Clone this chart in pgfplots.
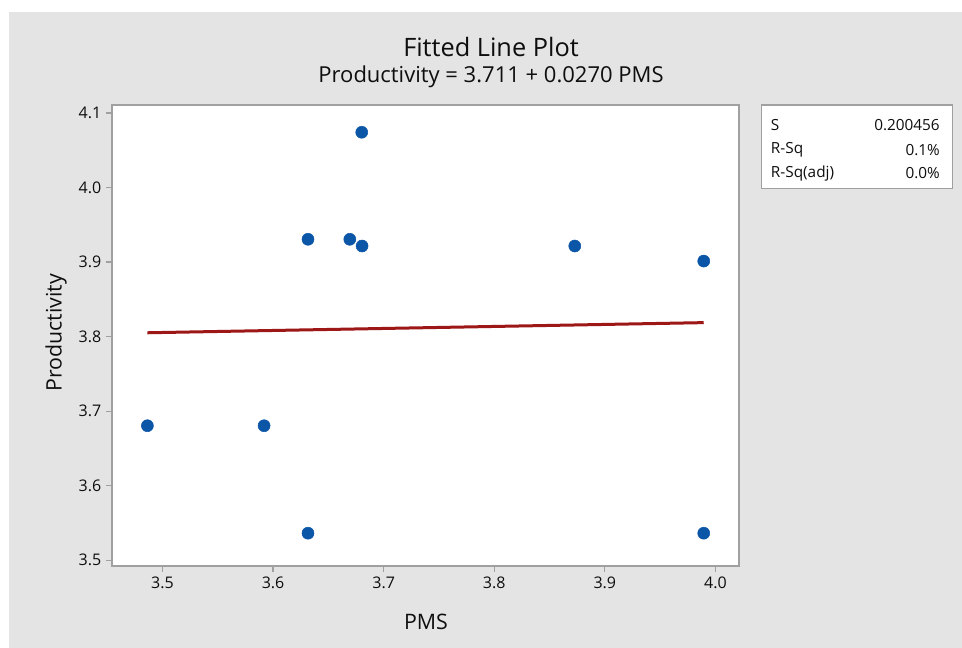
\documentclass[border=0pt]{standalone}
\usepackage{fontspec}
\setmainfont{Open Sans}
\usepackage{pgfplots}
\pgfplotsset{compat=1.18}

\definecolor{bg}{HTML}{E4E4E4}
\definecolor{framegray}{HTML}{A0A0A0}
\definecolor{dotblue}{HTML}{0B56A7}
\definecolor{fitred}{HTML}{9E1717}
\definecolor{txt}{HTML}{0E0E0E}

\begin{document}
\begin{tikzpicture}
% background, in pixel units (1px = 0.75pt), origin at the plot box corner
\begin{scope}[x=0.75pt,y=0.75pt]
  \useasboundingbox (-112,-82) rectangle (850,566);
  \fill[white] (-112,-82) rectangle (850,566);
  \fill[bg] (-103,-82) rectangle (850,554);
\end{scope}

\begin{axis}[
  at={(0,0)}, anchor=south west,
  scale only axis,
  width=470.25pt, height=345.75pt,
  xmin=3.4544, xmax=4.0213,
  ymin=3.4922, ymax=4.1107,
  xtick={3.5,3.6,3.7,3.8,3.9,4.0},
  ytick={3.5,3.6,3.7,3.8,3.9,4.0,4.1},
  tick pos=left,
  tick align=outside,
  major tick length=4.5pt,
  tick style={framegray, line width=0.9pt},
  axis line style={framegray, line width=1pt},
  axis background/.style={fill=white},
  /pgf/number format/assume math mode=true,
  /pgf/number format/.cd, fixed, fixed zerofill, precision=1,
  /pgfplots/.cd,
  ticklabel style={font=\fontsize{12}{14}\selectfont, text=txt},
  clip=false,
]
  % observations
  \addplot[only marks, mark=*, mark size=4.5pt, dotblue] coordinates {
    (3.4864,3.6804) (3.5919,3.6804) (3.6316,3.5362) (3.6316,3.9305)
    (3.6694,3.9305) (3.6802,4.0741) (3.6805,3.9215) (3.8728,3.9215)
    (3.9894,3.9013) (3.9894,3.5362)
  };
  % fitted line
  \addplot[fitred, line width=2.25pt] coordinates {
    (3.4864,3.8051) (3.9894,3.8187)
  };
\end{axis}

\begin{scope}[x=0.75pt,y=0.75pt, text=txt]
  \node at (379,519) {\fontsize{19}{22}\selectfont Fitted Line Plot};
  \node at (379,489) {\fontsize{16.5}{19}\selectfont Productivity = 3.711 + 0.0270 PMS};
  \node at (314,-56) {\fontsize{16}{19}\selectfont PMS};
  \node[rotate=90] at (-56,233) {\fontsize{16}{19}\selectfont Productivity};
  % summary box
  \draw[framegray, line width=1pt, fill=white] (649.7,377.7) rectangle (840.3,461);
  \begin{scope}[every node/.style={font=\fontsize{11.5}{13}\selectfont, inner sep=0pt}]
    \node[anchor=west] at (658.7,441) {S};
    \node[anchor=east] at (828,441) {0.200456};
    \node[anchor=west] at (658.7,416) {R-Sq};
    \node[anchor=east] at (828,416) {0.1\%};
    \node[anchor=west] at (658.7,392.7) {R-Sq(adj)};
    \node[anchor=east] at (828,392.7) {0.0\%};
  \end{scope}
\end{scope}
\end{tikzpicture}
\end{document}
